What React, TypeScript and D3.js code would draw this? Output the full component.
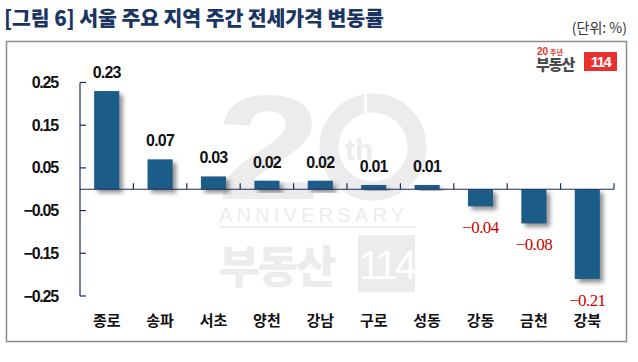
import * as d3 from 'd3';
import * as React from 'react';

const regions = ['종로', '송파', '서초', '양천', '강남', '구로', '성동', '강동', '금천', '강북'];
const changes = [0.23, 0.07, 0.03, 0.02, 0.02, 0.01, 0.01, -0.04, -0.08, -0.21];
const yTicks = [0.25, 0.15, 0.05, -0.05, -0.15, -0.25];

const W = 638;
const H = 362;
const KR = '"Noto Sans CJK KR", sans-serif';
const NUM = '"Liberation Sans", Arial, sans-serif';
const SERIF = '"Liberation Serif", "Times New Roman", serif';

const fmt = (v: number) => (v < 0 ? '\u2212' : '') + Math.abs(v).toFixed(2);

export default function App() {
  const x = d3.scaleBand<string>().domain(regions).range([80, 614]).paddingInner(0.53).paddingOuter(0.265);
  const y = d3.scaleLinear().domain([-0.25, 0.25]).range([296, 82.5]);
  const zero = y(0);
  const step = x.step();

  return (
    <svg width={W} height={H} style={{ display: 'block', position: 'absolute', left: 0, top: 0, background: '#fff' }}>
      <defs>
        <filter id="shadow" x="-30%" y="-30%" width="170%" height="170%">
          <feDropShadow dx="3.5" dy="3.5" stdDeviation="2.2" floodColor="#444" floodOpacity="0.6" />
        </filter>
      </defs>
      <rect width={W} height={H} fill="#fff" />

      {/* title */}
      <text x={4} y={26} fontFamily={KR} fontWeight={900} fontSize={20.5} fill="#1b3563" letterSpacing={-0.1}>
        [그림 6] 서울 주요 지역 주간 전세가격 변동률
      </text>
      <text x={627} y={33} textAnchor="end" fontFamily={KR} fontSize={14} fill="#333">
        (단위: %)
      </text>

      {/* frame */}
      <rect x={6.5} y={41.5} width={620} height={300} fill="none" stroke="#8c8c8c" strokeWidth={1.5} />

      {/* watermark */}
      <g fill="#ececec">
        <text x={0} y={0} transform="translate(216,199) scale(1.28,1)" fontFamily={NUM} fontWeight={700} fontSize={148}>2</text>
        <circle cx={373} cy={147} r={44} fill="none" stroke="#ececec" strokeWidth={19} />
        <rect x={364} y={90} width={3} height={40} fill="#fff" />
        <text x={345} y={160} fontFamily={NUM} fontWeight={700} fontSize={30}>th</text>
        <text x={219} y={222} fontFamily={NUM} fontSize={20} letterSpacing={4.2}>ANNIVERSARY</text>
        <rect x={219} y={226} width={197} height={1.5} />
        <text x={219} y={283} fontFamily={KR} fontWeight={900} fontSize={44} letterSpacing={-2}>부동산</text>
        <rect x={358} y={235} width={57} height={57} />
        <text x={386.5} y={279} textAnchor="middle" fontFamily={NUM} fontSize={40} fill="#fff" letterSpacing={-3}>114</text>
      </g>

      {/* logo */}
      <text x={537} y={55} fontFamily={NUM} fontWeight={700} fontSize={10} fill="#e8312f">20</text>
      <text x={550} y={55} fontFamily={KR} fontWeight={700} fontSize={7} fill="#e8312f">주년</text>
      <text x={536} y={70} fontFamily={KR} fontWeight={900} fontSize={15} fill="#4a4a4a" letterSpacing={-1}>부동산</text>
      <rect x={584} y={52} width={33} height={19} fill="#e8312f" />
      <text x={600.5} y={67} textAnchor="middle" fontFamily={NUM} fontWeight={700} fontSize={15} fill="#fff" letterSpacing={-1.5}>114</text>

      {/* bars */}
      {changes.map((v, i) => (
        <rect
          key={regions[i]}
          x={x(regions[i])}
          y={Math.min(y(v), zero)}
          width={x.bandwidth()}
          height={Math.abs(y(v) - zero)}
          fill="#1f5c88"
          filter="url(#shadow)"
        />
      ))}

      {/* axes */}
      <g stroke="#1b2a5e" strokeWidth={1.2}>
        <line x1={80} x2={80} y1={y(0.25)} y2={y(-0.25)} />
        {yTicks.map((t) => (
          <line key={t} x1={80} x2={86} y1={y(t)} y2={y(t)} />
        ))}
        <line x1={80} x2={614} y1={zero} y2={zero} />
        {regions.map((r, i) => (
          <line key={r} x1={80 + step * (i + 1)} x2={80 + step * (i + 1)} y1={zero} y2={zero - 6} />
        ))}
      </g>

      {/* y tick labels */}
      {yTicks.map((t) => (
        <text key={t} x={58} y={y(t) + 5.5} textAnchor="end" fontFamily={NUM} fontWeight={700} fontSize={16} letterSpacing={-1.2} fill="#111">
          {fmt(t)}
        </text>
      ))}

      {/* value labels */}
      {changes.map((v, i) => {
        const cx = (x(regions[i]) ?? 0) + x.bandwidth() / 2;
        return v >= 0 ? (
          <text key={i} x={cx} y={y(v) - 13} textAnchor="middle" fontFamily={NUM} fontWeight={700} fontSize={16} letterSpacing={-0.8} fill="#111">
            {fmt(v)}
          </text>
        ) : (
          <text key={i} x={cx} y={y(v) + 27} textAnchor="middle" fontFamily={SERIF} fontSize={17} letterSpacing={-0.6} fill="#d00000">
            {fmt(v)}
          </text>
        );
      })}

      {/* category labels */}
      {regions.map((r) => (
        <text key={r} x={(x(r) ?? 0) + x.bandwidth() / 2} y={326} textAnchor="middle" fontFamily={KR} fontWeight={700} fontSize={15} fill="#111">
          {r}
        </text>
      ))}
    </svg>
  );
}
